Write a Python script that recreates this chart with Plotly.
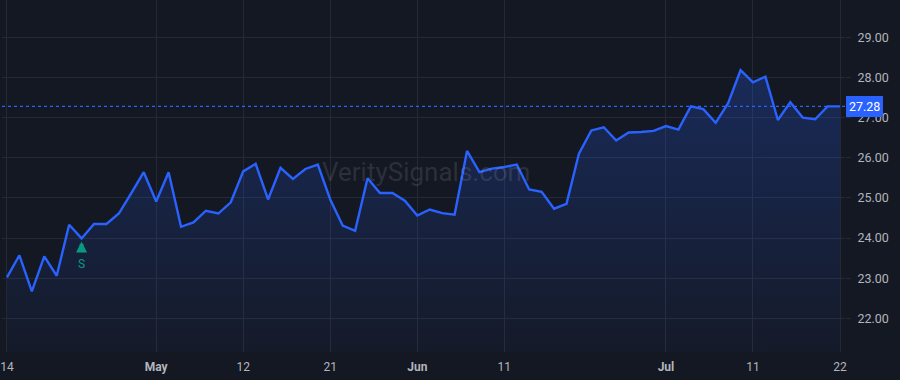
import plotly.graph_objects as go

dates = [
    "2025-04-14", "2025-04-15", "2025-04-16", "2025-04-17", "2025-04-21", "2025-04-22",
    "2025-04-23", "2025-04-24", "2025-04-25", "2025-04-28", "2025-04-29", "2025-04-30",
    "2025-05-01", "2025-05-02", "2025-05-05", "2025-05-06", "2025-05-07", "2025-05-08",
    "2025-05-09", "2025-05-12", "2025-05-13", "2025-05-14", "2025-05-15", "2025-05-16",
    "2025-05-19", "2025-05-20", "2025-05-21", "2025-05-22", "2025-05-23", "2025-05-27",
    "2025-05-28", "2025-05-29", "2025-05-30", "2025-06-02", "2025-06-03", "2025-06-04",
    "2025-06-05", "2025-06-06", "2025-06-09", "2025-06-10", "2025-06-11", "2025-06-12",
    "2025-06-13", "2025-06-16", "2025-06-17", "2025-06-18", "2025-06-20", "2025-06-23",
    "2025-06-24", "2025-06-25", "2025-06-26", "2025-06-27", "2025-06-30", "2025-07-01",
    "2025-07-02", "2025-07-03", "2025-07-07", "2025-07-08", "2025-07-09", "2025-07-10",
    "2025-07-11", "2025-07-14", "2025-07-15", "2025-07-16", "2025-07-17", "2025-07-18",
    "2025-07-21", "2025-07-22",
]

prices = [
    23.02, 23.57, 22.67, 23.54, 23.06, 24.33, 23.99, 24.35, 24.35, 24.61, 25.12, 25.64,
    24.91, 25.64, 24.28, 24.39, 24.68, 24.61, 24.89, 25.66, 25.85, 24.96, 25.75, 25.47,
    25.72, 25.83, 24.96, 24.31, 24.18, 25.49, 25.12, 25.12, 24.93, 24.56, 24.71, 24.62,
    24.58, 26.17, 25.64, 25.73, 25.77, 25.83, 25.21, 25.15, 24.73, 24.85, 26.10, 26.68,
    26.76, 26.43, 26.63, 26.64, 26.67, 26.79, 26.70, 27.28, 27.21, 26.87, 27.36, 28.18,
    27.88, 28.02, 26.94, 27.38, 27.00, 26.96, 27.28, 27.28,
]

tick_dates = ["2025-04-14", "2025-05-01", "2025-05-12", "2025-05-21", "2025-06-02",
              "2025-06-11", "2025-07-01", "2025-07-11", "2025-07-22"]
tick_labels = ["14", "<b>May</b>", "12", "21", "<b>Jun</b>", "11", "<b>Jul</b>", "11", "22"]

y_ticks = [22, 23, 24, 25, 26, 27, 28, 29]

signal_date = "2025-04-23"
signal_label = "S"
watermark = "VeritySignals.com"

last_price = prices[-1]
signal_price = prices[dates.index(signal_date)]

BG = "#141822"
GRID = "#252935"
LINE = "#2962ff"
TXT = "#b2b5be"
GREEN = "#089981"

fig = go.Figure()
fig.add_trace(go.Scatter(
    x=dates, y=prices, mode="lines",
    line=dict(color=LINE, width=2.4),
    fill="tozeroy",
    fillgradient=dict(
        type="vertical",
        start=21.16, stop=28.2,
        colorscale=[[0, "rgba(41,98,255,0.03)"], [1, "rgba(41,98,255,0.25)"]],
    ),
    hoverinfo="skip",
    showlegend=False,
))

fig.add_shape(type="line", xref="paper", x0=0, x1=1, yref="y",
              y0=last_price, y1=last_price,
              line=dict(color=LINE, width=1.2, dash="dot"))

fig.add_annotation(xref="paper", x=1.0, yref="y", y=last_price,
                   text=f"{last_price:.2f}", showarrow=False,
                   xanchor="left", yanchor="middle", xshift=1,
                   bgcolor=LINE, bordercolor=LINE, borderpad=2,
                   font=dict(color="#ffffff", size=12.5, family="Roboto"))

fig.add_annotation(x=signal_date, y=signal_price, text=signal_label,
                   showarrow=True, ax=0, ay=26, axref="pixel", ayref="pixel",
                   arrowcolor=GREEN, arrowhead=2, arrowsize=0.55, arrowwidth=4,
                   standoff=3, startstandoff=5,
                   font=dict(color=GREEN, size=12, family="Roboto"))

fig.add_annotation(xref="paper", yref="paper", x=0.503, y=0.51,
                   text=watermark, showarrow=False,
                   font=dict(color="rgba(178,181,190,0.17)", size=26, family="Roboto"))

fig.update_layout(
    width=900, height=380,
    margin=dict(l=0, r=55, t=0, b=28),
    paper_bgcolor=BG, plot_bgcolor=BG,
    font=dict(family="Roboto", color=TXT, size=12),
    xaxis=dict(
        type="category", range=[-0.4, 67.4],
        tickmode="array", tickvals=tick_dates, ticktext=tick_labels,
        showgrid=True, gridcolor=GRID, gridwidth=1,
        zeroline=False, showline=False, ticks="",
        tickfont=dict(color=TXT, size=12),
        ticklabelstandoff=6,
    ),
    yaxis=dict(
        side="right", range=[21.16, 29.93],
        tickmode="array", tickvals=y_ticks, ticktext=[f"{v:.2f}" for v in y_ticks],
        showgrid=True, gridcolor=GRID, gridwidth=1,
        zeroline=False, showline=False,
        ticks="outside", ticklen=5, tickcolor=GRID,
        tickfont=dict(color=TXT, size=12.5),
        ticklabelstandoff=4,
    ),
)

fig.write_html("out.html")
